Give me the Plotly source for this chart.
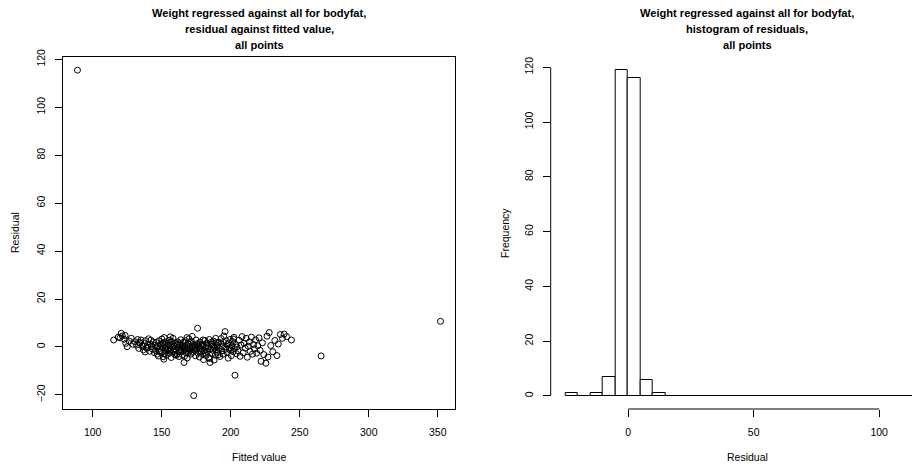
import plotly.graph_objects as go

# ---- scatter data: fitted value vs residual ----
fitted = [
    89.0, 265.5, 352.0,
    115.2, 118.5, 120.7, 121.5, 122.8, 124.0, 125.0, 126.5, 128.0, 129.3, 119.8, 123.5,
    130.5, 131.8, 132.6, 133.4, 134.2, 135.0, 135.9, 136.7, 137.5, 138.3, 139.0, 139.8, 140.5,
    141.2, 141.9, 142.6, 143.3, 144.0, 144.7, 145.0, 137.9, 133.9, 142.2, 136.2, 140.1,
    145.6, 146.2, 146.8, 147.3, 147.9, 148.4, 149.0, 149.5, 150.1, 150.6, 151.1, 151.5, 152.0,
    152.5, 152.9, 153.4, 153.8, 154.3, 154.7, 155.2, 155.6, 156.0, 156.5, 156.9, 157.3, 157.7,
    158.2, 158.6, 159.0, 159.5, 159.9, 148.1, 150.8, 153.1, 155.9, 157.1, 149.7, 152.3, 154.9,
    146.5, 151.8, 158.9, 156.2, 147.6, 154.1,
    160.3, 160.8, 161.2, 161.7, 162.1, 162.5, 163.0, 163.4, 163.8, 164.3, 164.7, 165.1, 165.6,
    166.0, 166.2, 166.8, 167.2, 167.6, 168.1, 168.5, 168.9, 169.3, 169.8, 170.2, 170.6, 171.0,
    171.5, 171.9, 172.3, 172.8, 173.2, 173.6, 174.0, 174.5, 174.9, 161.5, 162.8, 164.0, 165.3,
    166.5, 167.9, 169.1, 170.4, 171.7, 173.0, 174.2, 163.6, 168.3, 172.1, 160.6,
    175.3, 175.8, 176.0, 176.4, 176.9, 177.3, 177.8, 178.2, 178.7, 179.1, 179.6, 180.0, 180.3,
    180.9, 181.3, 181.8, 182.2, 182.7, 183.1, 183.6, 184.0, 184.5, 185.0, 185.4, 185.9, 186.3,
    186.8, 187.2, 187.6, 188.0, 188.5, 188.9, 189.4, 189.8, 176.1, 178.0, 179.9, 181.5, 183.3,
    184.8, 186.1, 187.9, 189.1, 177.1, 182.5,
    190.3, 190.8, 191.3, 191.7, 192.2, 192.7, 193.1, 193.6, 194.0, 194.5, 195.0, 195.9, 196.4,
    196.8, 197.3, 197.7, 198.2, 198.6, 199.1, 199.5, 200.0, 200.5, 200.9, 201.4, 201.8, 202.3,
    202.7, 203.1, 203.6, 204.1, 204.5, 191.0, 194.8, 198.9, 202.0,
    205.3, 206.0, 206.8, 207.5, 208.2, 209.0, 209.7, 210.5, 211.2, 212.0, 212.7, 213.5, 214.2,
    215.0, 215.8, 216.5, 217.3, 218.0, 218.8, 219.6,
    220.5, 221.3, 222.0, 223.0, 224.0, 225.5, 226.3, 227.0, 227.9, 229.0, 230.5, 232.0, 233.5, 234.5,
    236.0, 237.5, 238.7, 240.5, 244.0,
]
residual = [
    115.5, -3.75, 10.7,
    2.9, 4.1, 5.7, 4.6, 3.2, 1.5, 0.1, 2.4, 3.6, 1.1, 3.8, 4.8,
    2.2, 0.8, 3.1, -0.6, 1.7, 2.9, 0.3, -1.2, 1.4, 2.6, -0.4, 0.9, 3.4,
    -1.8, 1.2, 0.2, -0.9, 2.1, -2.4, 0.6, -2.1, 1.9, 2.8, 0.5, -0.2,
    -1.5, 1.8, -3.0, 0.4, 2.5, -0.7, 1.1, -2.2, 3.3, -0.3, -4.1, -5.1, 0.9,
    2.0, -1.6, -3.5, 0.2, 1.5, -0.9, -2.7, 2.8, 0.6, -1.2, -4.4, 1.0, -0.2,
    3.6, -2.0, 0.3, -3.2, 1.7, -1.9, 1.6, -0.5, -1.7, 2.3, 0.7, -2.8, 0.9,
    -0.1, 3.9, -0.8, 4.2, -3.8, -1.1,
    -1.4, 0.8, -2.9, 2.1, -0.3, -4.0, 1.3, -1.8, 3.0, -0.6, 0.4, -3.3, 1.9,
    -1.0, -6.5, 0.0, 2.6, -2.4, 0.7, -4.6, 1.5, -0.8, 3.4, -1.7, 0.3, -3.0,
    2.2, -0.4, -2.2, 1.0, -20.3, -1.3, 0.6, -3.7, 2.9, 1.1, -2.1, -1.2, 0.2,
    -3.9, -0.9, -2.7, 1.8, -1.1, 0.1, -0.2, 0.9, 3.9, 4.4, -3.5,
    -1.0, 1.4, 7.8, -2.6, 0.3, -4.2, 2.0, -0.7, -2.0, 1.1, -3.1, 0.5, -5.3,
    -1.5, 2.7, -0.2, -3.6, 1.6, -1.9, 0.1, -4.5, 3.1, -6.5, -0.9, 1.2, -2.8,
    0.4, -1.4, 2.4, -5.5, -0.5, -3.4, 1.8, -1.2, 0.9, -1.6, 2.9, -2.5, -0.8,
    -4.8, 2.0, 0.0, 3.6, -0.3, 0.7,
    0.6, -2.3, 2.0, -0.6, -4.0, 1.3, 3.5, -1.7, 0.2, -3.0, 4.6, 6.4, -0.9,
    2.5, -2.2, 0.9, -4.7, 1.6, -0.3, 3.1, -1.4, -3.6, 0.4, 2.2, -2.0, 4.0,
    -0.7, -11.8, 1.1, -2.8, 0.0, -3.3, 1.9, -1.0, 3.3,
    -1.6, 2.8, -3.9, 0.8, 4.3, -2.4, 1.5, -0.5, 3.6, -4.3, 0.3, 2.1, -1.9,
    4.1, -3.0, 1.0, -0.8, 2.9, -2.6, 0.5,
    3.8, -1.4, -6.0, 1.7, -3.2, -6.8, 4.5, -4.2, 6.0, 0.6, -2.0, 2.7, -3.6, 1.2,
    5.2, 3.6, 5.4, 4.3, 2.9,
]

# ---- histogram of residuals (bin width 5) ----
bin_start = -25
bin_width = 5
hist_counts = [1, 0, 1, 7, 119, 116, 6, 1,
               0, 0, 0, 0, 0, 0, 0, 0, 0, 0,
               0, 0, 0, 0, 0, 0, 0, 0, 0, 0,
               1]
bin_centers = [bin_start + bin_width * (i + 0.5) for i in range(len(hist_counts))]

scatter_xticks = [100, 150, 200, 250, 300, 350]
scatter_yticks = [-20, 0, 20, 40, 60, 80, 100, 120]
hist_xticks = [0, 50, 100]
hist_yticks = [0, 20, 40, 60, 80, 100, 120]

# The page body has an 8px margin, so the figure is drawn 8px smaller and
# every target screen position is converted to figure coordinates.
VW, VH = 920, 466
OFF = 8
W, H = VW - OFF, VH - OFF
FONT = "Liberation Sans, Arial, Helvetica, sans-serif"


def fx(px):
    return (px - OFF) / W


def fy(py):
    return (H - (py - OFF)) / H


# plot regions in screen pixels
s_left, s_right = 63, 455
h_left, h_right_full = 550.7, 944.0
top_px, bot_px = 57, 409
ydom = [fy(bot_px), fy(top_px)]

fig = go.Figure()
fig.add_trace(go.Scatter(
    x=fitted, y=residual, mode="markers",
    marker=dict(symbol="circle-open", size=6, color="black", line=dict(width=1, color="black")),
    xaxis="x", yaxis="y", showlegend=False, hoverinfo="x+y"))

fig.add_trace(go.Bar(
    x=bin_centers, y=hist_counts, width=bin_width,
    marker=dict(color="white", line=dict(color="black", width=1)),
    xaxis="x2", yaxis="y2", showlegend=False))

tickfont = dict(family=FONT, size=10.5, color="black")
common = dict(showgrid=False, zeroline=False, ticks="outside", ticklen=7, tickwidth=1,
              tickcolor="black", tickfont=tickfont, automargin=False)

# hist x range: R default extension, clipped at the window edge
h_xmin, h_xmax_full = -30.8, 125.8
h_ppu = (h_right_full - h_left) / (h_xmax_full - h_xmin)
h_xmax = h_xmin + (VW - h_left) / h_ppu

fig.update_layout(
    template="none",
    width=W, height=H,
    margin=dict(l=0, r=0, t=0, b=0, pad=0),
    paper_bgcolor="white", plot_bgcolor="white",
    bargap=0,
    xaxis=dict(domain=[fx(s_left), fx(s_right)], range=[78.5, 362.5], tickvals=scatter_xticks,
               showline=True, mirror=True, linecolor="black", linewidth=1,
               anchor="y", ticklabelstandoff=6, **common),
    yaxis=dict(domain=ydom, range=[-25.9, 121.0], tickvals=scatter_yticks,
               showline=True, mirror=True, linecolor="black", linewidth=1,
               anchor="x", tickangle=-90, ticklabelstandoff=6, **common),
    xaxis2=dict(domain=[fx(h_left), 1.0], range=[h_xmin, h_xmax], tickvals=hist_xticks,
                showline=False, anchor="y2", ticklabelstandoff=6, **common),
    yaxis2=dict(domain=ydom, range=[-4.76, 123.76], tickvals=hist_yticks,
                showline=False, anchor="x2", tickangle=-90, ticklabelstandoff=6, **common),
    shapes=[
        dict(type="line", xref="x2", yref="y2 domain", x0=hist_xticks[0], x1=hist_xticks[-1],
             y0=0, y1=0, line=dict(color="black", width=1)),
        dict(type="line", xref="x2 domain", yref="y2", x0=0, x1=0,
             y0=hist_yticks[0], y1=hist_yticks[-1], line=dict(color="black", width=1)),
    ],
)

titlefont = dict(family=FONT, size=11.1, color="black")
labfont = dict(family=FONT, size=10.5, color="black")
s_cx = fx((s_left + s_right) / 2)
h_cx = fx((h_left + h_right_full) / 2)
mid_y = fy((top_px + bot_px) / 2)
ann = []
for cx, lines in [(s_cx, ["Weight regressed against all for bodyfat,",
                          "residual against fitted value,", "all points"]),
                  (h_cx, ["Weight regressed against all for bodyfat,",
                          "histogram of residuals,", "all points"])]:
    for i, t in enumerate(lines):
        ann.append(dict(text="<b>%s</b>" % t, x=cx, y=fy(13 + 16 * i),
                        xref="paper", yref="paper", xanchor="center", yanchor="middle",
                        showarrow=False, font=titlefont))
ann.append(dict(text="Fitted value", x=s_cx, y=fy(457), xref="paper", yref="paper",
                xanchor="center", yanchor="middle", showarrow=False, font=labfont))
ann.append(dict(text="Residual", x=h_cx, y=fy(457), xref="paper", yref="paper",
                xanchor="center", yanchor="middle", showarrow=False, font=labfont))
ann.append(dict(text="Residual", x=fx(15), y=mid_y, xref="paper",
                yref="paper", xanchor="center", yanchor="middle", textangle=-90,
                showarrow=False, font=labfont))
ann.append(dict(text="Frequency", x=fx(505), y=mid_y, xref="paper",
                yref="paper", xanchor="center", yanchor="middle", textangle=-90,
                showarrow=False, font=labfont))
fig.update_layout(annotations=ann)

fig.write_html("out.html")
